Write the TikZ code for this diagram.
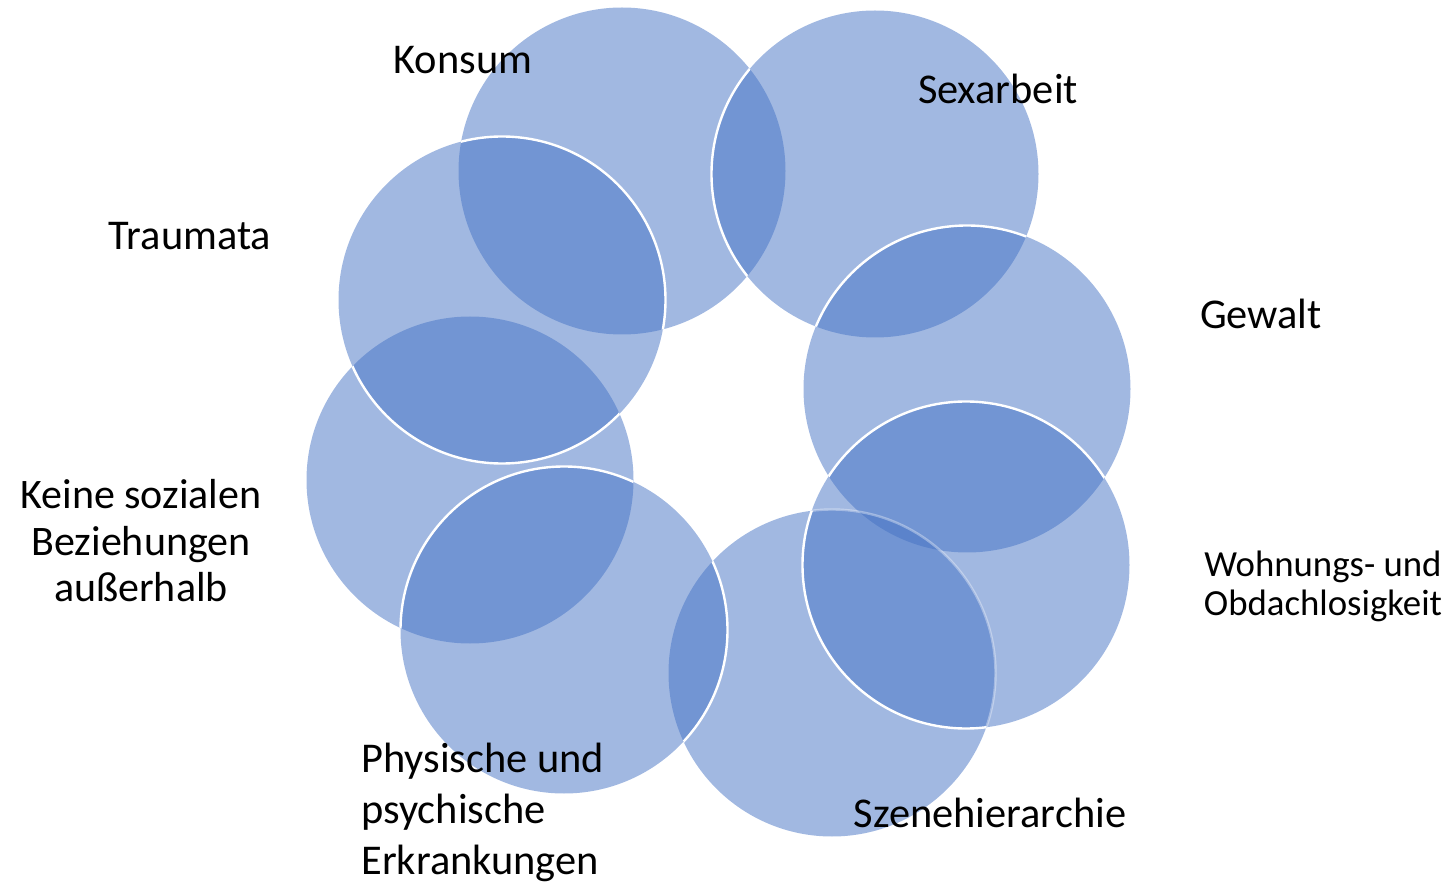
\documentclass[tikz,border=0pt]{standalone}
\usepackage{fontspec}
\setmainfont{Carlito}
\definecolor{acc}{HTML}{4472C4}
\begin{document}
\begin{tikzpicture}[x=0.5pt,y=-0.5pt,
  bub/.style={fill=acc,fill opacity=0.5,draw=none},
  rim/.style={draw=white,line width=1.2pt},
  faintrim/.style={draw=white,draw opacity=0.35,line width=1.2pt},
  lab/.style={font=\fontsize{21.2}{25.5}\selectfont,inner sep=0pt,anchor=base,text=black},
  labsmall/.style={font=\fontsize{18.4}{20}\selectfont,inner sep=0pt,anchor=base,align=center,text=black}]
\useasboundingbox (0,0) rectangle (1453,882);
\def\R{163.5}
\coordinate (cK)  at (622,171);
\coordinate (cS)  at (875,174);
\coordinate (cG)  at (967,389);
\coordinate (cKe) at (470,480);
\coordinate (cSz) at (832,673);
\coordinate (cW)  at (966,565);
\coordinate (cP)  at (564,630);
\coordinate (cT)  at (502,300);
% fills
\foreach \c in {cK,cS,cG,cKe,cSz,cW,cP,cT}
  \fill[bub] (\c) circle[radius=\R];
% outlines visible over earlier circles
\begin{scope}
  \clip (cK) circle[radius=\R];
  \draw[rim] (cS) circle[radius=\R];
\end{scope}
\begin{scope}
  \clip (cS) circle[radius=\R];
  \draw[rim] (cG) circle[radius=\R];
\end{scope}
\begin{scope}
  \clip (cG) circle[radius=\R] (cW) circle[radius=\R];
  \draw[faintrim] (cSz) circle[radius=\R];
\end{scope}
\begin{scope}
  \clip (cG) circle[radius=\R] (cSz) circle[radius=\R];
  \draw[rim] (cW) circle[radius=\R];
\end{scope}
\begin{scope}
  \clip (cKe) circle[radius=\R] (cSz) circle[radius=\R];
  \draw[rim] (cP) circle[radius=\R];
\end{scope}
\begin{scope}
  \clip (cK) circle[radius=\R] (cKe) circle[radius=\R];
  \draw[rim] (cT) circle[radius=\R];
\end{scope}
% labels
\node[lab] (tK)  at (463,74)  {Konsum};
\node[lab] (tS)  at (998,104) {Sexarbeit};
\node[lab] (tT)  at (190,250) {Traumata};
\node[lab] (tG)  at (1261,329) {Gewalt};
\node[lab] (tSz) at (990,827) {Szenehierarchie};
\node[labsmall] (tW) at (1323,616) {Wohnungs- und\\Obdachlosigkeit};
\node[lab,anchor=base west,align=left] (tP) at (361,874) {Physische und\\psychische\\Erkrankungen};
\node[lab,align=center,font=\fontsize{21}{23.5}\selectfont] (tKe) at (141,602) {Keine sozialen\\Beziehungen\\außerhalb};
\end{tikzpicture}
\end{document}
